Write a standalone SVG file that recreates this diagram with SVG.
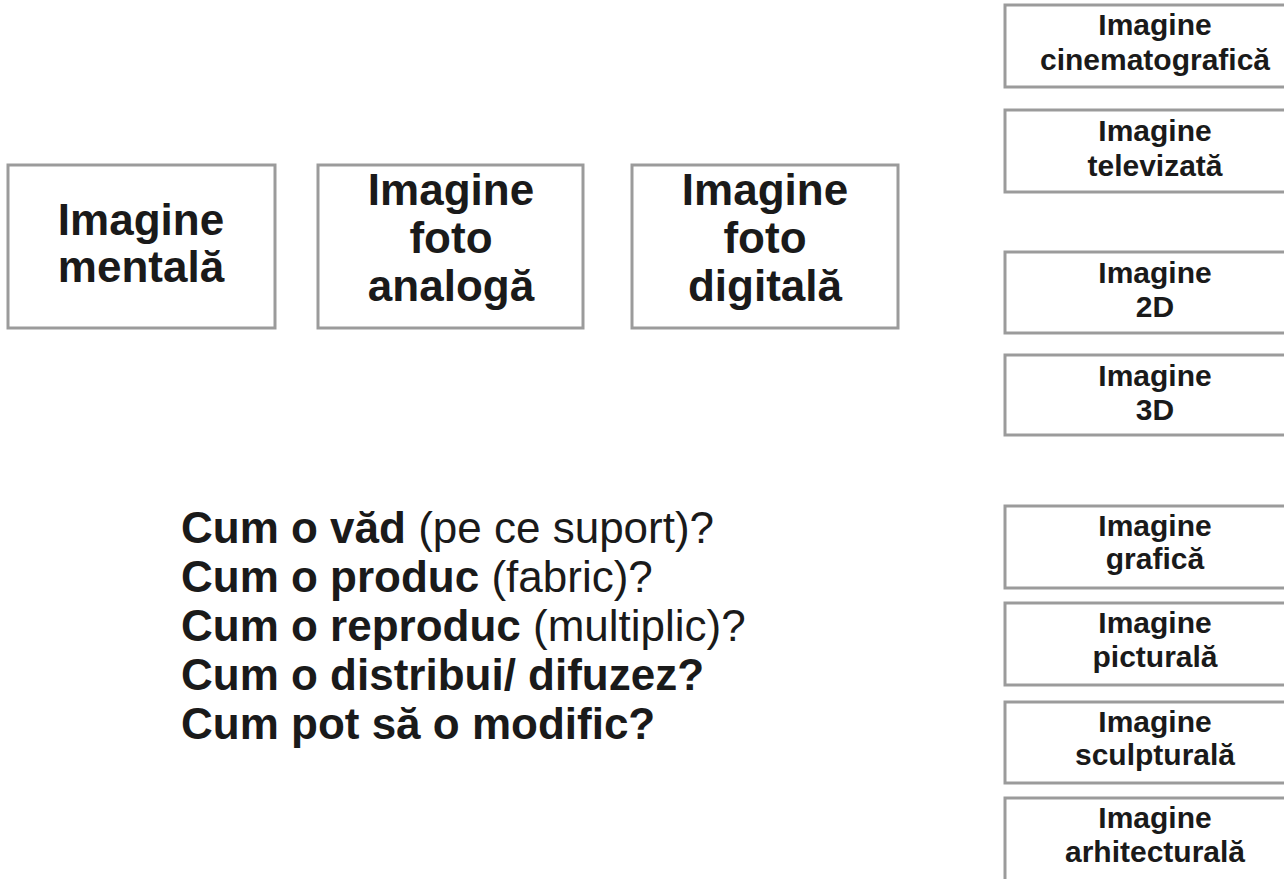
<svg xmlns="http://www.w3.org/2000/svg" width="1284" height="879" viewBox="0 0 1284 879">
<style>
.box{fill:#fff;stroke:#9b9b9b;stroke-width:3}
.big{font-family:"Liberation Sans",Arial,sans-serif;font-weight:bold;font-size:44px;fill:#1a1a1a;text-anchor:middle}
.sm{font-family:"Liberation Sans",Arial,sans-serif;font-weight:bold;font-size:30px;fill:#1a1a1a;text-anchor:middle}
.q{font-family:"Liberation Sans",Arial,sans-serif;font-size:44px;fill:#1a1a1a}
.b{font-weight:bold}
</style>
<rect width="1284" height="879" fill="#fff"/>
<g id="mentala">
<rect class="box" x="8" y="165" width="267" height="163"/>
<text class="big" x="141" y="235">Imagine</text>
<text class="big" x="141" y="282">mentală</text>
</g>
<g id="analoga">
<rect class="box" x="318" y="165" width="265" height="163"/>
<text class="big" x="451" y="205">Imagine</text>
<text class="big" x="451" y="253">foto</text>
<text class="big" x="451" y="301">analogă</text>
</g>
<g id="digitala">
<rect class="box" x="632" y="165" width="266" height="163"/>
<text class="big" x="765" y="205">Imagine</text>
<text class="big" x="765" y="253">foto</text>
<text class="big" x="765" y="301">digitală</text>
</g>
<g id="cinematografica">
<rect class="box" x="1005" y="5" width="300" height="82"/>
<text class="sm" x="1155" y="35">Imagine</text>
<text class="sm" x="1155" y="70">cinematografică</text>
</g>
<g id="televizata">
<rect class="box" x="1005" y="110" width="300" height="82"/>
<text class="sm" x="1155" y="141">Imagine</text>
<text class="sm" x="1155" y="176">televizată</text>
</g>
<g id="i2d">
<rect class="box" x="1005" y="252" width="300" height="81"/>
<text class="sm" x="1155" y="283">Imagine</text>
<text class="sm" x="1155" y="317">2D</text>
</g>
<g id="i3d">
<rect class="box" x="1005" y="355" width="300" height="80"/>
<text class="sm" x="1155" y="386">Imagine</text>
<text class="sm" x="1155" y="420">3D</text>
</g>
<g id="grafica">
<rect class="box" x="1005" y="506" width="300" height="82"/>
<text class="sm" x="1155" y="536">Imagine</text>
<text class="sm" x="1155" y="569">grafică</text>
</g>
<g id="picturala">
<rect class="box" x="1005" y="603" width="300" height="82"/>
<text class="sm" x="1155" y="633">Imagine</text>
<text class="sm" x="1155" y="667">picturală</text>
</g>
<g id="sculpturala">
<rect class="box" x="1005" y="702" width="300" height="81"/>
<text class="sm" x="1155" y="732">Imagine</text>
<text class="sm" x="1155" y="765">sculpturală</text>
</g>
<g id="arhitecturala">
<rect class="box" x="1005" y="798" width="300" height="95"/>
<text class="sm" x="1155" y="828">Imagine</text>
<text class="sm" x="1155" y="862">arhitecturală</text>
</g>
<g id="questions">
<text class="q" x="181" y="543"><tspan class="b">Cum o văd</tspan> (pe ce suport)?</text>
<text class="q" x="181" y="592"><tspan class="b">Cum o produc</tspan> (fabric)?</text>
<text class="q" x="181" y="641"><tspan class="b">Cum o reproduc</tspan> (multiplic)?</text>
<text class="q b" x="181" y="690">Cum o distribui/ difuzez?</text>
<text class="q b" x="181" y="739">Cum pot să o modific?</text>
</g>
<g id="connectors"></g>
</svg>
